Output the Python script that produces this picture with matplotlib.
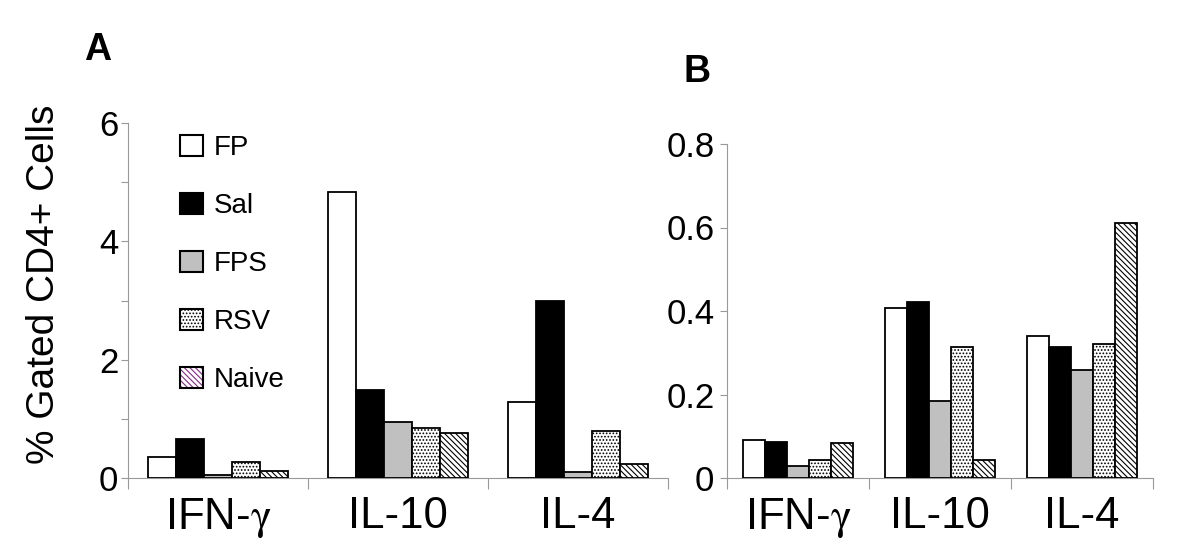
import matplotlib
matplotlib.use("Agg")
import matplotlib.pyplot as plt
import numpy as np
from matplotlib.patches import Patch
from matplotlib.legend_handler import HandlerTuple

plt.rcParams['font.family'] = ['Liberation Sans', 'DejaVu Sans']
plt.rcParams['mathtext.fontset'] = 'stix'
plt.rcParams['hatch.linewidth'] = 0.8

categories = ["IFN-$\\mathrm{\\gamma}$", "IL-10", "IL-4"]
groups = ["FP", "Sal", "FPS", "RSV", "Naive"]

# Panel A values (% gated CD4+ cells)
a_FP = [0.35, 4.83, 1.28]
a_Sal = [0.66, 1.49, 2.99]
a_FPS = [0.05, 0.94, 0.10]
a_RSV = [0.27, 0.85, 0.79]
a_Naive = [0.12, 0.76, 0.24]

# Panel B values
b_FP = [0.091, 0.407, 0.340]
b_Sal = [0.086, 0.422, 0.314]
b_FPS = [0.029, 0.184, 0.259]
b_RSV = [0.043, 0.314, 0.321]
b_Naive = [0.084, 0.043, 0.611]

styles = [
    dict(facecolor="white", hatch=None),
    dict(facecolor="black", hatch=None),
    dict(facecolor="#c0c0c0", hatch=None),
    dict(facecolor="white", hatch="....."),
    dict(facecolor="white", hatch="\\\\\\\\\\\\"),
]

fig = plt.figure(figsize=(12, 5.49), dpi=100)
axA = fig.add_axes([128/1200, 1-478/549, 540/1200, 355/549])
axB = fig.add_axes([727/1200, 1-478/549, 426/1200, 334/549])

w = 0.155
x = np.arange(len(categories))

def draw(ax, series, ymax, major, minor):
    for i, vals in enumerate(series):
        st = styles[i]
        ax.bar(x + (i - 2) * w, vals, width=w, facecolor=st["facecolor"],
               edgecolor="black", linewidth=1.3, hatch=st["hatch"], zorder=3)
    ax.set_xlim(-0.5, 2.5)
    ax.set_ylim(0, ymax)
    for s in ["top", "right"]:
        ax.spines[s].set_visible(False)
    for s in ["left", "bottom"]:
        ax.spines[s].set_color("#999999")
        ax.spines[s].set_linewidth(0.8)
    ax.set_xticks(x)
    ax.set_xticklabels(categories, fontsize=31.5)
    ax.set_xticks([-0.5, 0.5, 1.5, 2.5], minor=True)
    ax.tick_params(axis="x", which="major", length=0, pad=13)
    ax.tick_params(axis="x", which="minor", length=8, color="#999999", width=0.8)
    ax.set_yticks(major)
    if minor is not None:
        ax.set_yticks(minor, minor=True)
    ax.tick_params(axis="y", which="both", length=5, color="#999999", width=0.8,
                   labelsize=25, pad=2)

draw(axA, [a_FP, a_Sal, a_FPS, a_RSV, a_Naive], 6, [0, 2, 4, 6], [1, 3, 5])
axA.set_yticklabels(["0", "2", "4", "6"])
draw(axB, [b_FP, b_Sal, b_FPS, b_RSV, b_Naive], 0.8, [0, 0.2, 0.4, 0.6, 0.8], None)
axB.set_yticklabels(["0", "0.2", "0.4", "0.6", "0.8"])
axB.tick_params(axis="y", pad=4)

fig.text(44/1200, 1-284/549, "% Gated CD4+ Cells", fontsize=28, rotation=90,
         ha="center", va="center")

# legend
handles = []
for i, g in enumerate(groups):
    st = styles[i]
    if g == "Naive":
        h = (Patch(facecolor="white", edgecolor="#8a2a8a", hatch="\\\\\\\\\\\\", linewidth=0),
             Patch(facecolor="none", edgecolor="black", linewidth=1.5))
    else:
        h = Patch(facecolor=st["facecolor"], edgecolor="black", hatch=st["hatch"], linewidth=1.5)
    handles.append(h)
axA.legend(handles, groups, loc="upper left", bbox_to_anchor=(0.096, 0.967),
           frameon=False, fontsize=20, handlelength=0.85, handleheight=0.78,
           handletextpad=0.36, labelspacing=1.15, borderpad=0, borderaxespad=0,
           handler_map={tuple: HandlerTuple(ndivide=1, pad=0)})

fig.text(98/1200, 1-50/549, "A", fontsize=27, fontweight="bold", ha="center", va="center")
fig.text(697/1200, 1-72/549, "B", fontsize=27, fontweight="bold", ha="center", va="center")

fig.savefig("out.png", dpi=100)
